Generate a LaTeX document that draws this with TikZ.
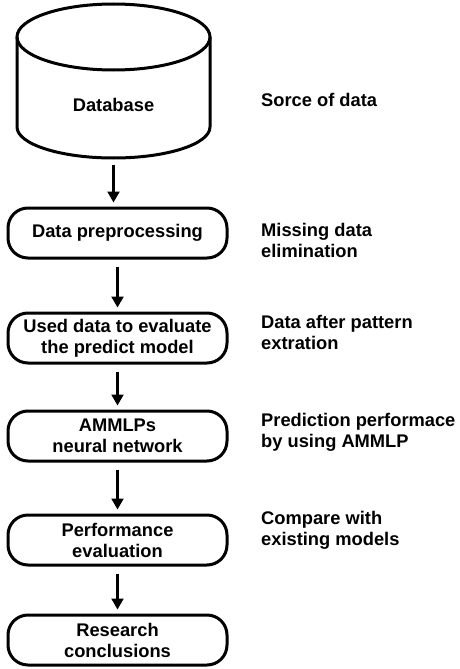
\documentclass[tikz,border=0pt]{standalone}
\usepackage{fontspec}
\setmainfont{Liberation Sans}
\usetikzlibrary{arrows.meta}
\tikzset{
  stepbox/.style={draw, line width=3pt, rounded corners=20pt, minimum width=219pt, minimum height=50pt, align=center, inner sep=0pt},
  note/.style={anchor=west, align=left, inner sep=0pt},
  flow/.style={-{Triangle[length=11pt,width=12pt]}, line width=2.2pt, shorten <=7pt, shorten >=4pt},
}
\begin{document}
\begin{tikzpicture}[x=1pt, y=-1pt, font=\bfseries\fontsize{18.3}{21}\selectfont]
  \useasboundingbox (0,0) rectangle (459,669);
  % Database cylinder
  \draw[line width=3pt] (113.5,37) ellipse [x radius=96.5, y radius=33];
  \draw[line width=3pt] (17,37) -- (17,127) arc[start angle=180, end angle=0, x radius=96.5, y radius=31] -- (210,37);
  \node (db) at (113.5,105) {Database};
  \coordinate (dbbot) at (113.5,158);
  % Steps
  \node[stepbox] (pre) at (117.5,233) {Data preprocessing};
  \node[stepbox] (used) at (117.5,338) {Used data to evaluate\\the predict model};
  \node[stepbox] (ammlp) at (117.5,436) {AMMLPs\\neural network};
  \node[stepbox] (perf) at (117.5,540) {Performance\\evaluation};
  \node[stepbox] (concl) at (117.5,640) {Research\\conclusions};
  % Arrows
  \draw[flow] (dbbot) -- (dbbot |- pre.north);
  \draw[flow] (pre) -- (used);
  \draw[flow] (used) -- (ammlp);
  \draw[flow] (ammlp) -- (perf);
  \draw[flow] (perf) -- (concl);
  % Notes on the right
  \node[note] (ndb) at (261,100) {Sorce of data};
  \node[note] (npre) at (261,240) {Missing data\\elimination};
  \node[note] (nused) at (261,332) {Data after pattern\\extration};
  \node[note] (nammlp) at (261,432) {Prediction performace\\by using AMMLP};
  \node[note] (nperf) at (261,530) {Compare with\\existing models};
\end{tikzpicture}
\end{document}
